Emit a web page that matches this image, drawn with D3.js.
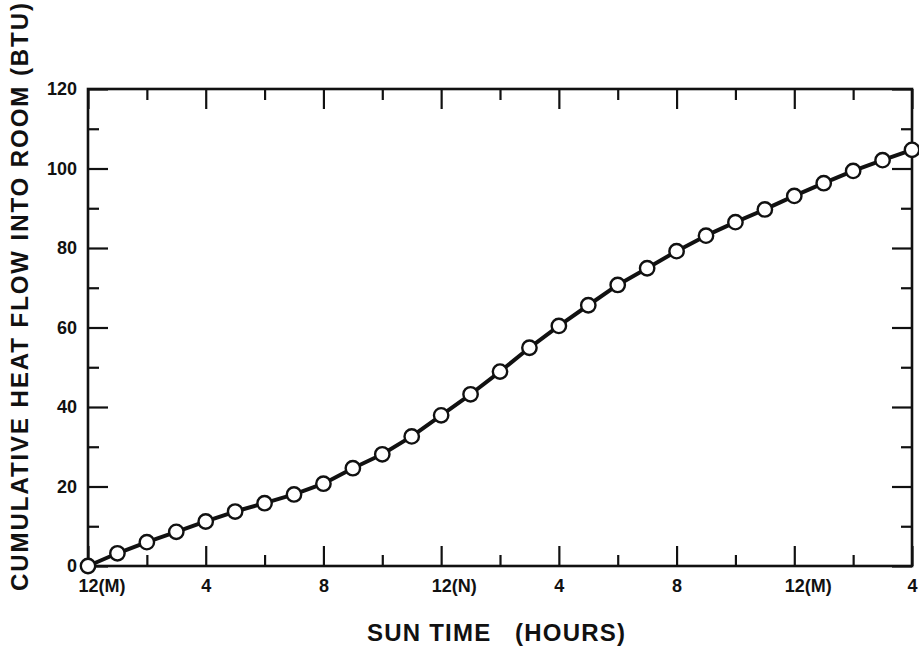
<!DOCTYPE html>
<html>
<head>
<meta charset="utf-8">
<script src="https://cdn.jsdelivr.net/npm/d3@7"></script>
<style>
  body { margin: 0; background: #fff; }
  svg { display: block; }
  .tickLabel { font-family: "Liberation Sans", Arial, sans-serif; font-weight: bold; font-size: 18px; fill: #111; }
  .axisTitle { font-family: "Liberation Sans", Arial, sans-serif; font-weight: bold; font-size: 24px; fill: #111; white-space: pre; }
</style>
</head>
<body>
<svg id="chart" width="919" height="652"></svg>
<script>
// Cumulative heat flow into room vs sun time
// hours run from midnight (0) through the next 4 AM (28)

const hours = [0, 1, 2, 3, 4, 5, 6, 7, 8, 9, 10, 11, 12, 13, 14, 15, 16, 17, 18, 19, 20, 21, 22, 23, 24, 25, 26, 27, 28];
const heatFlow = [0, 3.2, 6.0, 8.6, 11.2, 13.7, 15.8, 18.0, 20.7, 24.6, 28.1, 32.6, 37.9, 43.2, 48.9, 54.9,
                  60.4, 65.6, 70.7, 74.9, 79.2, 83.1, 86.5, 89.7, 93.1, 96.3, 99.4, 102.1, 104.7];

const xTickValues = [0, 2, 4, 6, 8, 10, 12, 14, 16, 18, 20, 22, 24, 26, 28];
const xMajorTicks = [0, 4, 8, 12, 16, 20, 24, 28];
const xMajorLabels = ["12(M)", "4", "8", "12(N)", "4", "8", "12(M)", "4"];
const yTickValues = [0, 10, 20, 30, 40, 50, 60, 70, 80, 90, 100, 110, 120];
const yMajorTicks = [0, 20, 40, 60, 80, 100, 120];

const xTitle = "SUN TIME   (HOURS)";
const yTitle = "CUMULATIVE HEAT FLOW INTO ROOM (BTU)";

const svg = d3.select("#chart");
const plot = {left: 88, right: 912, top: 89, bottom: 566};

const xScale = d3.scaleLinear().domain([0, 28]).range([plot.left, plot.right]);
const yScale = d3.scaleLinear().domain([0, 120]).range([plot.bottom, plot.top]);

const majorLen = 20, minorLen = 11;
const ink = "#111";

// frame
svg.append("rect")
    .attr("x", plot.left).attr("y", plot.top)
    .attr("width", plot.right - plot.left).attr("height", plot.bottom - plot.top)
    .attr("fill", "none").attr("stroke", ink).attr("stroke-width", 2.6);

function styleTicks(g, isMajor, sign, horiz) {
    g.select(".domain").remove();
    g.selectAll(".tick line")
        .attr("stroke", ink).attr("stroke-width", 2.2)
        .attr(horiz ? "y2" : "x2", d => sign * (isMajor(d) ? majorLen : minorLen));
}

const xMaj = d => xMajorTicks.includes(d);
const yMaj = d => yMajorTicks.includes(d);

// bottom axis, ticks inward
const xBottom = svg.append("g")
    .attr("transform", `translate(0,${plot.bottom})`)
    .call(d3.axisBottom(xScale).tickValues(xTickValues).tickSizeInner(-majorLen).tickSizeOuter(0).tickPadding(13)
        .tickFormat(d => xMaj(d) ? xMajorLabels[xMajorTicks.indexOf(d)] : ""));
styleTicks(xBottom, xMaj, -1, true);
xBottom.selectAll(".tick text")
    .attr("class", "tickLabel")
    .attr("font-size", null).attr("font-family", null);

// keep "12" centered on the tick, let the (M)/(N) hang to the right
const probe = svg.append("text").attr("class", "tickLabel").text("12");
const w12 = probe.node().getComputedTextLength();
probe.remove();
xBottom.selectAll(".tick text")
    .filter(function() { return this.textContent.indexOf("(") >= 0; })
    .attr("text-anchor", "start")
    .attr("x", -w12 / 2);

// top axis
const xTop = svg.append("g")
    .attr("transform", `translate(0,${plot.top})`)
    .call(d3.axisTop(xScale).tickValues(xTickValues).tickSizeInner(-majorLen).tickSizeOuter(0).tickFormat(""));
styleTicks(xTop, xMaj, 1, true);

// left axis
const yLeft = svg.append("g")
    .attr("transform", `translate(${plot.left},0)`)
    .call(d3.axisLeft(yScale).tickValues(yTickValues).tickSizeInner(-majorLen).tickSizeOuter(0).tickPadding(11)
        .tickFormat(d => yMaj(d) ? d : ""));
styleTicks(yLeft, yMaj, 1, false);
yLeft.selectAll(".tick text")
    .attr("class", "tickLabel")
    .attr("font-size", null).attr("font-family", null);

// right axis
const yRight = svg.append("g")
    .attr("transform", `translate(${plot.right},0)`)
    .call(d3.axisRight(yScale).tickValues(yTickValues).tickSizeInner(-majorLen).tickSizeOuter(0).tickFormat(""));
styleTicks(yRight, yMaj, -1, false);

// axis titles
svg.append("text")
    .attr("class", "axisTitle")
    .attr("x", 367).attr("y", 641)
    .attr("textLength", 258).attr("lengthAdjust", "spacing")
    .text(xTitle);

svg.append("text")
    .attr("class", "axisTitle")
    .attr("transform", "translate(28,297) rotate(-90)")
    .attr("text-anchor", "middle")
    .attr("textLength", 588).attr("lengthAdjust", "spacing")
    .text(yTitle);

// data line + markers
const points = hours.map((h, i) => ({x: h, y: heatFlow[i]}));

const line = d3.line()
    .x(d => xScale(d.x))
    .y(d => yScale(d.y));

svg.append("path")
    .datum(points)
    .attr("d", line)
    .attr("fill", "none")
    .attr("stroke", ink)
    .attr("stroke-width", 4)
    .attr("stroke-linejoin", "round");

svg.append("g")
    .selectAll("circle")
    .data(points)
    .join("circle")
        .attr("cx", d => xScale(d.x))
        .attr("cy", d => yScale(d.y))
        .attr("r", 7.2)
        .attr("fill", "#fff")
        .attr("stroke", ink)
        .attr("stroke-width", 2.4);
</script>
</body>
</html>
